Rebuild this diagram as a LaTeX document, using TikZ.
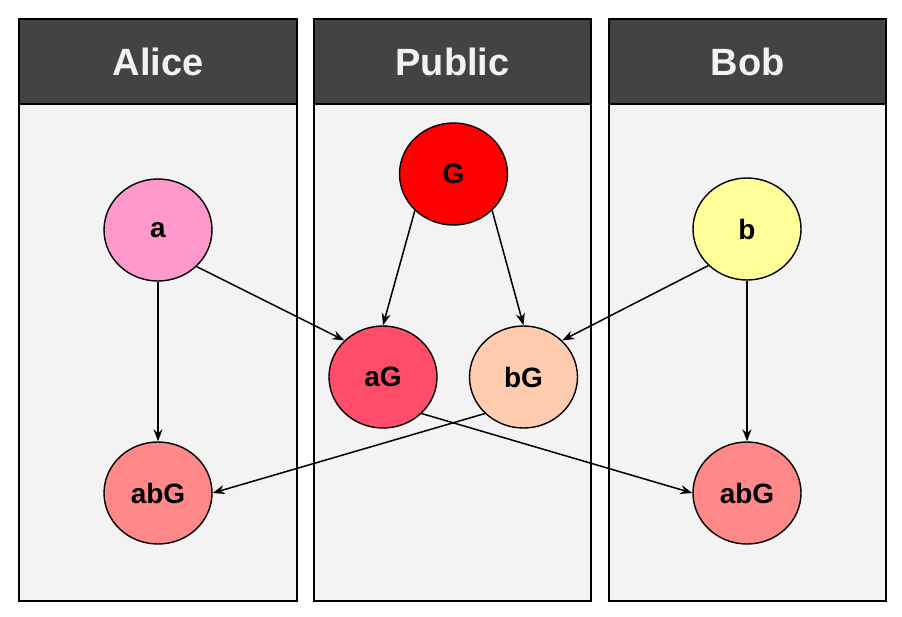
\documentclass[tikz,border=0pt]{standalone}
\usepackage{fontspec}
\setmainfont{Liberation Sans}
\usetikzlibrary{shapes.geometric,arrows.meta}
\definecolor{hdr}{HTML}{434343}
\definecolor{pnl}{HTML}{F3F3F3}
\definecolor{cA}{HTML}{FF99CC}
\definecolor{cG}{HTML}{FF0000}
\definecolor{caG}{HTML}{FF4D6A}
\definecolor{cbG}{HTML}{FFCCB0}
\definecolor{cB}{HTML}{FFFF99}
\definecolor{cabG}{HTML}{FF8888}
\tikzset{
  panel/.style={draw=black, fill=pnl, line width=1.4pt},
  header/.style={draw=black, fill=hdr, line width=1.4pt},
  htext/.style={text=white!95!black, font=\fontsize{38}{40}\selectfont\bfseries},
  val/.style={ellipse, draw=black, line width=1.4pt, minimum width=108pt, minimum height=102pt, inner sep=0pt, font=\fontsize{28}{30}\selectfont\bfseries},
  conn/.style={line width=1.5pt, -{Stealth[length=12pt,width=9pt]}}
}
\begin{document}
\begin{tikzpicture}[x=1pt,y=-1pt]
\useasboundingbox (0,0) rectangle (902,616);
% panels
\foreach \l/\r/\n in {19/297/Alice, 314/591/Public, 609/886/Bob}{
  \draw[panel] (\l,104) rectangle (\r,601);
  \draw[header] (\l,19) rectangle (\r,104);
}
\node[htext] (hA) at (158,62) {Alice};
\node[htext] (hP) at (452.5,62) {Public};
\node[htext] (hB) at (747.5,62) {Bob};
% values
\node[val, fill=cA] (a) at (158,230) {a};
\node[val, fill=cG] (G) at (453.5,174) {G};
\node[val, fill=cB] (b) at (747,229) {b};
\node[val, fill=caG] (aG) at (383,377) {aG};
\node[val, fill=cbG] (bG) at (523.5,377) {bG};
\node[val, fill=cabG] (abgL) at (158,493) {abG};
\node[val, fill=cabG] (abgR) at (747,493) {abG};
% connectors
\draw[conn] (a.south) -- (abgL.north);
\draw[conn] (a.south east) -- (aG.north west);
\draw[conn] (G.south west) -- (aG.north);
\draw[conn] (G.south east) -- (bG.north);
\draw[conn] (b.south west) -- (bG.north east);
\draw[conn] (b.south) -- (abgR.north);
\draw[conn] (aG.south east) -- (abgR.west);
\draw[conn] (bG.south west) -- (abgL.east);
\end{tikzpicture}
\end{document}
